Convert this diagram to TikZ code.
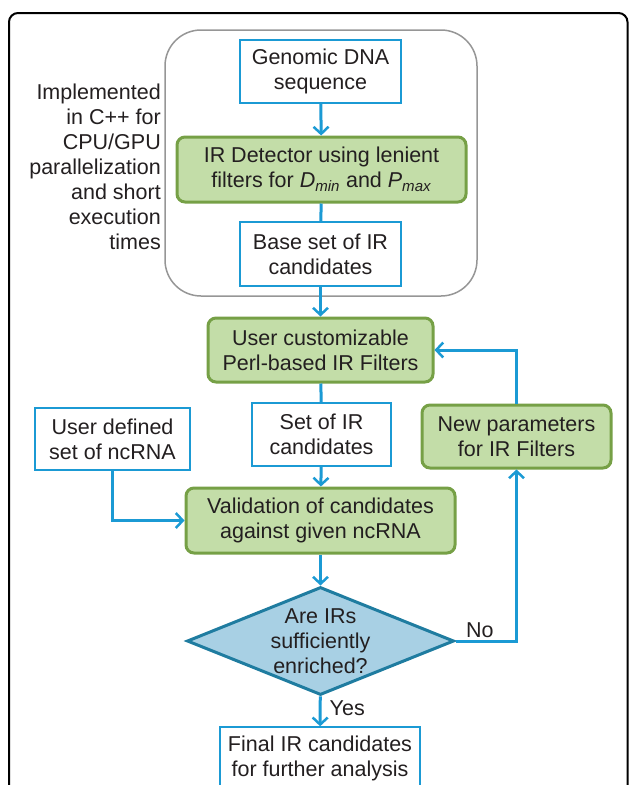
\documentclass[tikz,border=0pt]{standalone}
\usepackage{fontspec}
\setmainfont{Liberation Sans}
\usetikzlibrary{arrows.meta,shapes.geometric}
\definecolor{cblue}{HTML}{1B9AD4}
\definecolor{gfill}{HTML}{C3DDA8}
\definecolor{gdraw}{HTML}{76A046}
\definecolor{dfill}{HTML}{A8D0E4}
\definecolor{ddraw}{HTML}{1F7CA0}
\definecolor{txt}{HTML}{231F20}
\tikzset{
  x=1pt,y=-1pt,
  every node/.style={font=\fontsize{21.5}{25}\selectfont, text=txt, inner sep=0pt, align=center},
  bluebox/.style={draw=cblue, line width=1.5pt, fill=white},
  greenbox/.style={draw=gdraw, line width=3pt, fill=gfill, rounded corners=8pt},
  decision/.style={diamond, draw=ddraw, line width=3pt, fill=dfill},
  conn/.style={draw=cblue, line width=3pt},
  arr/.style={conn, -{Straight Barb[length=7pt,width=15pt,line width=2.5pt]}}
}
\begin{document}
\begin{tikzpicture}
\useasboundingbox (0,0) rectangle (629,785);
% outer frame
\draw[line width=2pt, black, rounded corners=9pt] (9,800) -- (9,13) -- (627.5,13) -- (627.5,800);
% gray frame
\draw[line width=1.5pt, draw={rgb,255:red,150;green,150;blue,150}, rounded corners=36pt] (165,30) rectangle (477,296);
% left text
\node[anchor=east, align=right] (impl) at (161,167) {Implemented\\in C++ for\\CPU/GPU\\parallelization\\and short\\execution\\times};
% nodes
\node[bluebox, minimum width=161pt, minimum height=63pt] (gen) at (320.5,71.5) {Genomic DNA\\sequence};
\node[greenbox, minimum width=289pt, minimum height=65pt] (ird) at (321.5,169.5) {IR Detector using lenient\\filters for \textit{D}\textsubscript{\textit{min}} and \textit{P}\textsubscript{\textit{max}}};
\node[bluebox, minimum width=161pt, minimum height=64pt] (base) at (320.5,254) {Base set of IR\\candidates};
\node[greenbox, minimum width=225pt, minimum height=64pt] (uc) at (320.5,350) {User customizable\\Perl-based IR Filters};
\node[bluebox, minimum width=139pt, minimum height=63pt] (set) at (321.5,434.5) {Set of IR\\candidates};
\node[bluebox, minimum width=155pt, minimum height=62pt] (ud) at (112.5,439) {User defined\\set of ncRNA};
\node[greenbox, minimum width=189pt, minimum height=63pt] (np) at (516.5,436.5) {New parameters\\for IR Filters};
\node[greenbox, minimum width=269pt, minimum height=65pt] (val) at (320.5,520.5) {Validation of candidates\\against given ncRNA};
\node[decision, minimum width=267pt, minimum height=108pt] (dec) at (320.5,641) {};
\node (dectext) at (320.5,641.5) {Are IRs\\sufficiently\\enriched?};
\node[bluebox, minimum width=200pt, minimum height=63pt] (fin) at (320,758.5) {Final IR candidates\\for further analysis};
% connectors
\draw[arr] (gen) -- (ird);
\draw[conn] (ird) -- (base);
\draw[arr] (base) -- (uc);
\draw[conn] (uc) -- (set);
\draw[arr] (set) -- (val);
\draw[arr] (ud.south) |- (val.west);
\draw[arr] (val) -- (dec);
\draw[arr] (dec) -- node[right=8pt, pos=0.4] (yes) {Yes} (fin);
\draw[arr] (dec.east) -- node[above=2pt, pos=0.4] (no) {No} (dec.east -| np.south) -- (np.south);
\draw[arr] (np.north) |- (uc.east);
\end{tikzpicture}
\end{document}
